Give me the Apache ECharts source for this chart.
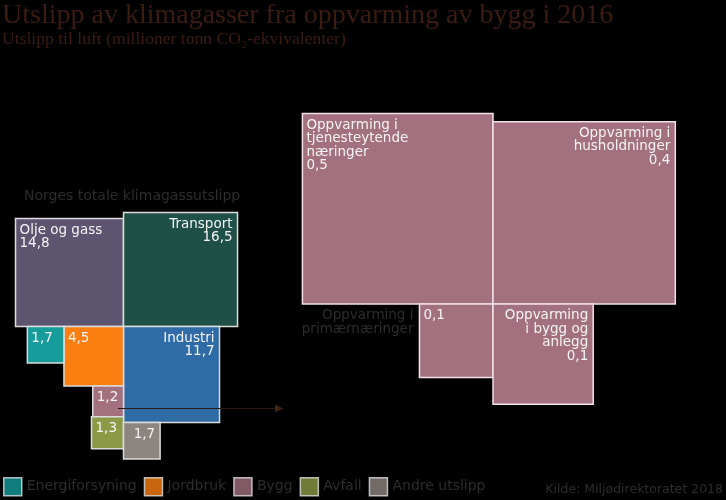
<!DOCTYPE html>
<html><head><meta charset="utf-8">
<script src="https://cdn.jsdelivr.net/npm/echarts@6/dist/echarts.min.js"></script>
<style>html,body{margin:0;padding:0;background:#000;} #c{width:726px;height:500px;}</style>
</head><body><div id="c"></div>
<script>
// ---------- data ----------
const totalCategories = ['Olje og gass', 'Transport', 'Industri', 'Jordbruk', 'Energiforsyning', 'Bygg', 'Avfall', 'Andre utslipp'];
const totalValues = [14.8, 16.5, 11.7, 4.5, 1.7, 1.2, 1.3, 1.7];
const totalShowName = [true, true, true, false, false, false, false, false];
const byggCategories = ['Oppvarming i\ntjenesteytende\nnæringer', 'Oppvarming i\nhusholdninger', 'Oppvarming i\nprimærnæringer', 'Oppvarming\ni bygg og\nanlegg'];
const byggValues = [0.47, 0.43, 0.07, 0.13];
const legendNames = ['Energiforsyning', 'Jordbruk', 'Bygg', 'Avfall', 'Andre utslipp'];

// ---------- styles ----------
const colors = {
  'Olje og gass': '#5d5570', 'Transport': '#1e5048', 'Industri': '#2f6ba7',
  'Jordbruk': '#fb7f10', 'Energiforsyning': '#179c9c', 'Bygg': '#a3707f',
  'Avfall': '#8c9a46', 'Andre utslipp': '#8d8580'
};
const FONT = 'DejaVu Sans';
const DIM = '#2d2d2d';
const fmt = v => v.toFixed(1).replace('.', ',');

// ---------- layout (square side ~ sqrt(value)) ----------
const u = totalValues.map(Math.sqrt);
const leftRects = [
  [-u[0], -u[0], 0, 0],
  [0, -u[1], u[1], 0],
  [0, 0, u[2], u[2]],
  [-u[3], 0, 0, u[3]],
  [-u[3] - u[4], 0, -u[3], u[4]],
  [-u[5], u[3], 0, u[3] + u[5]],
  [-u[6], u[3] + u[5], 0, u[3] + u[5] + u[6]],
  [0, u[2], u[7], u[2] + u[7]]
];
const leftAlign = ['left', 'right', 'right', 'left', 'left', 'left', 'left', 'right'];

const w = byggValues.map(Math.sqrt);
const rightRects = [
  [-w[0], -w[0], 0, 0],
  [0, -w[1], w[1], 0],
  [-w[2], 0, 0, w[2]],
  [0, 0, w[3], w[3]]
];
const rightAlign = ['left', 'right', 'left', 'right'];

// pixel scale & pivots
const S1 = 28.07, R1 = 4.4, P1 = [123.5, 326.5];
const S2 = 278, R2 = 0.7, P2 = [493, 304];

function rectOf(api) {
  const p0 = api.coord([api.value(0), api.value(1)]);
  const p1 = api.coord([api.value(2), api.value(3)]);
  return {
    x: Math.min(p0[0], p1[0]), y: Math.min(p0[1], p1[1]),
    width: Math.abs(p1[0] - p0[0]), height: Math.abs(p1[1] - p0[1])
  };
}
function txt(text, x, y, align, fill) {
  return {
    type: 'text', x: x, y: y, z2: 10,
    style: { text: text, fill: fill || '#f4f4f4', fontSize: 13.5, fontFamily: FONT,
      align: align, verticalAlign: 'top', lineHeight: 13.5 }
  };
}

function renderLeft(params, api) {
  const i = params.dataIndex;
  const r = rectOf(api);
  const name = totalCategories[i];
  const label = (totalShowName[i] ? name + '\n' : '') + fmt(totalValues[i]);
  const al = leftAlign[i];
  const tx = al === 'left' ? r.x + 4 : r.x + r.width - 5;
  return {
    type: 'group',
    children: [
      { type: 'rect', shape: r, style: { fill: colors[name], stroke: '#dcdcdc', lineWidth: 1.5 } },
      txt(label, tx, r.y + 5, al)
    ]
  };
}
function renderRight(params, api) {
  const i = params.dataIndex;
  const r = rectOf(api);
  const al = rightAlign[i];
  const tx = al === 'left' ? r.x + 4 : r.x + r.width - 5;
  const children = [
    { type: 'rect', shape: r, style: { fill: colors['Bygg'], stroke: '#f3e0e7', lineWidth: 1.5 } }
  ];
  if (i === 2) {
    children.push(txt(fmt(byggValues[i]), tx, r.y + 5, 'left'));
    children.push(txt(byggCategories[i], r.x - 6, r.y + 5, 'right', DIM));
  } else {
    children.push(txt(byggCategories[i] + '\n' + fmt(byggValues[i]), tx, r.y + 5, al));
  }
  return { type: 'group', children: children };
}

const chart = echarts.init(document.getElementById('c'), null, { renderer: 'canvas' });
chart.setOption({
  backgroundColor: '#000',
  animation: false,
  title: {
    text: 'Utslipp av klimagasser fra oppvarming av bygg i 2016',
    subtext: 'Utslipp til luft (millioner tonn CO₂-ekvivalenter)',
    left: 0, top: 0, padding: [2, 2], itemGap: 0,
    textStyle: { fontFamily: 'Liberation Serif', fontSize: 28, fontWeight: 'normal', color: '#3b1c12' },
    subtextStyle: { fontFamily: 'Liberation Serif', fontSize: 17.6, color: '#3b1c12' }
  },
  legend: {
    data: legendNames, icon: 'rect', itemWidth: 18, itemHeight: 18, itemGap: 7,
    left: 3, top: 477, padding: 0, selectedMode: false,
    itemStyle: { borderColor: '#e0e0e0', borderWidth: 1.5 },
    textStyle: { color: DIM, fontSize: 14, fontFamily: FONT }
  },
  grid: [
    { left: P1[0] - R1 * S1, top: P1[1] - R1 * S1, width: 2 * R1 * S1, height: 2 * R1 * S1 },
    { left: P2[0] - R2 * S2, top: P2[1] - R2 * S2, width: 2 * R2 * S2, height: 2 * R2 * S2 }
  ],
  xAxis: [
    { type: 'value', gridIndex: 0, min: -R1, max: R1, show: false },
    { type: 'value', gridIndex: 1, min: -R2, max: R2, show: false }
  ],
  yAxis: [
    { type: 'value', gridIndex: 0, min: -R1, max: R1, inverse: true, show: false },
    { type: 'value', gridIndex: 1, min: -R2, max: R2, inverse: true, show: false }
  ],
  graphic: [
    { type: 'text', left: 24, top: 189, style: { text: 'Norges totale klimagassutslipp', fill: DIM, fontSize: 14, fontFamily: FONT } },
    { type: 'text', right: 3, top: 483, style: { text: 'Kilde: Miljødirektoratet 2018', fill: DIM, fontSize: 12.5, fontFamily: 'DejaVu Sans' } },
    { type: 'line', z: 100, shape: { x1: 118, y1: 408.5, x2: 276, y2: 408.5 }, style: { stroke: '#2a1b12', lineWidth: 1.2 } },
    { type: 'polygon', z: 100, shape: { points: [[275, 404.5], [283, 408.5], [275, 412.5]] }, style: { fill: '#3a2416' } }
  ],
  series: [
    {
      type: 'custom', name: 'total', xAxisIndex: 0, yAxisIndex: 0, clip: false,
      renderItem: renderLeft, encode: { x: [0, 2], y: [1, 3] },
      data: leftRects
    },
    {
      type: 'custom', name: 'bygg', xAxisIndex: 1, yAxisIndex: 1, clip: false,
      renderItem: renderRight, encode: { x: [0, 2], y: [1, 3] },
      data: rightRects
    }
  ].concat(legendNames.map(n => ({
    type: 'scatter', name: n, xAxisIndex: 0, yAxisIndex: 0, data: [],
    itemStyle: { color: colors[n] }
  })))
});
</script>
</body></html>
